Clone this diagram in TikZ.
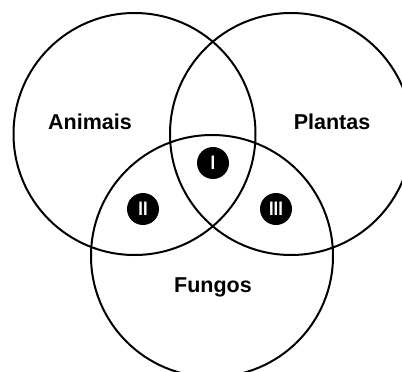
\documentclass[tikz,border=0pt]{standalone}
\usepackage{fontspec}
\setmainfont{Liberation Sans}
\begin{document}
\begin{tikzpicture}[x=1pt,y=-1pt,
  ring/.style={circle, draw=black, line width=2pt, inner sep=0pt, outer sep=0pt, minimum size=242pt},
  lab/.style={font=\fontsize{21.5}{26}\selectfont\bfseries, text=black, inner sep=0pt},
  badge/.style={circle, fill=black, minimum size=32pt, inner sep=0pt, text=white, font=\fontsize{19.5}{22}\selectfont\bfseries}]
\useasboundingbox (0,0) rectangle (402,372);
\clip (0,0) rectangle (402,372);
\node[ring] (animais) at (134.5,134) {};
\node[ring] (plantas) at (291,134) {};
\node[ring] (fungos) at (212,256) {};
\node[lab] (tA) at (90,121.5) {Animais};
\node[lab] (tP) at (332,121.5) {Plantas};
\node[lab] (tF) at (213,287) {Fungos};
\node[badge] (b1) at (213,163) {\scalebox{0.85}[1]{I}};
\node[badge] (b2) at (143,209) {\scalebox{0.85}[1]{II}};
\node[badge] (b3) at (276,209) {\scalebox{0.85}[1]{III}};
\end{tikzpicture}
\end{document}
